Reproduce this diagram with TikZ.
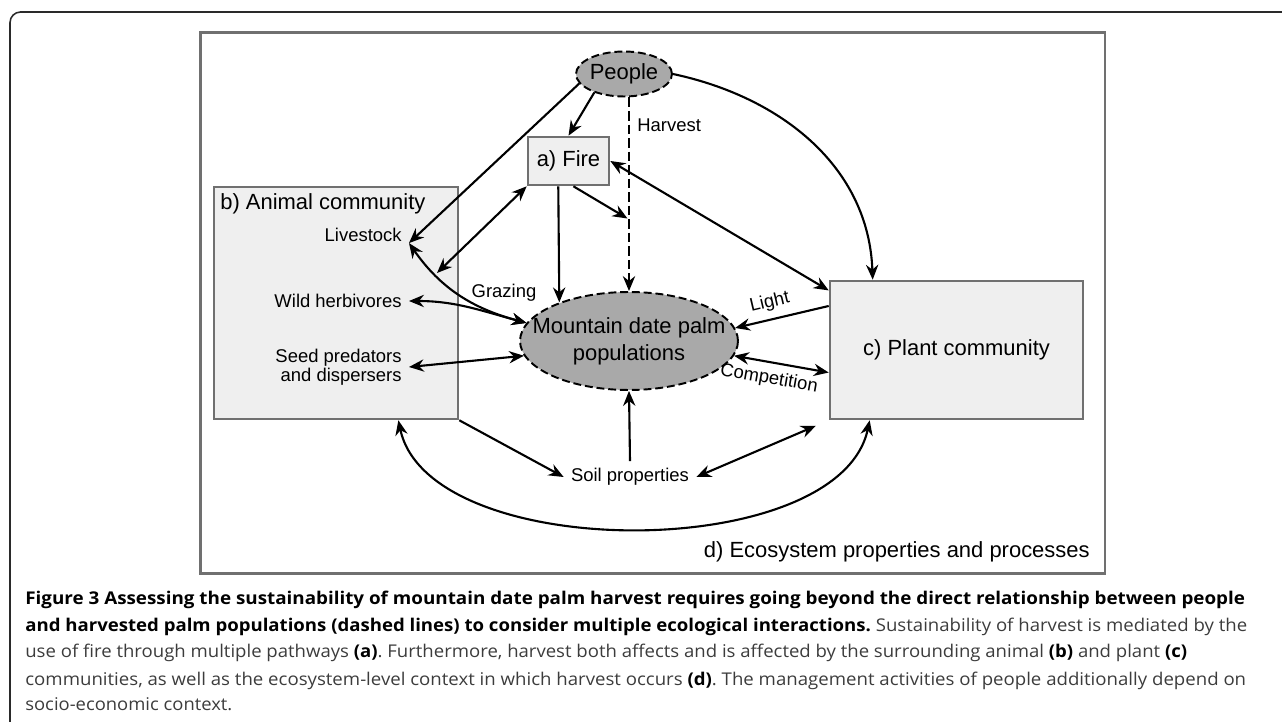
\documentclass[tikz,border=0pt]{standalone}
\usepackage{graphicx}
\usepackage{fontspec}
\setmainfont{Liberation Sans}
\newfontfamily\capfont{Open Sans}
\usetikzlibrary{arrows.meta,shapes.geometric}
\definecolor{boxedge}{HTML}{707070}
\definecolor{boxfill}{HTML}{EFEFEF}
\definecolor{ovalfill}{HTML}{A9A9A9}
\definecolor{captxt}{HTML}{3C3C3C}
\definecolor{framedark}{HTML}{2A2A2A}
\newcommand\capbold[1]{\textcolor{black}{\bfseries #1}}
\frenchspacing
\begin{document}
\begin{tikzpicture}[x=0.02cm,y=-0.02cm,
  box/.style={draw=boxedge,fill=boxfill,line width=1.5pt,inner sep=0pt},
  oval/.style={ellipse,draw,fill=ovalfill,line width=1.1pt,dash pattern=on 4.5pt off 2.2pt,inner sep=0pt},
  big/.style={font=\fontsize{12.5}{15.3}\selectfont},
  lbl/.style={font=\fontsize{10.5}{10.8}\selectfont,inner sep=4pt},
  captext/.style={font=\capfont\fontsize{10}{12}\selectfont,text=captxt,inner sep=0pt,anchor=base west},
  arr/.style={line width=1.2pt,-{Stealth[length=8.5pt,width=7pt,inset=2.8pt]}},
  twoway/.style={line width=1.2pt,{Stealth[length=8.5pt,width=7pt,inset=2.8pt]}-{Stealth[length=8.5pt,width=7pt,inset=2.8pt]}}]
\useasboundingbox (0,0) rectangle (1282,722);
% frames
\draw[framedark,line width=0.9pt,rounded corners=6pt] (10,760) -- (10,12) -- (1320,12);
\node[draw=boxedge,line width=1.5pt,minimum width=18.1cm,minimum height=10.82cm,anchor=north west,inner sep=0pt] (eco) at (199,31) {};
\node[big,anchor=base east,inner sep=0pt] (ecolbl) at (1090,558) {d) Ecosystem properties and processes};
% boxes and ovals
\node[box,minimum width=4.88cm,minimum height=4.64cm] (animal) at (336,303) {};
\node[big,anchor=base west,inner sep=0pt] (animallbl) at (220,210) {b) Animal community};
\node[box,big,minimum width=1.62cm,minimum height=0.96cm] (fire) at (568.5,161) {a) Fire};
\node[box,big,minimum width=5.06cm,minimum height=2.76cm] (plant) at (956.5,350) {c) Plant community};
\node[oval,minimum width=1.92cm,minimum height=0.9cm,label={[big]center:People}] (people) at (624,74) {};
\node[oval,minimum width=4.36cm,minimum height=1.96cm,label={[big,align=center]center:Mountain date palm\\populations}] (palm) at (629,341) {};
% labels
\node[lbl,anchor=east] (livestock) at (409,235) {Livestock};
\node[lbl,anchor=east] (wild) at (409,301) {Wild herbivores};
\node[lbl,anchor=east,align=right] (seed) at (409,367) {Seed predators\\and dispersers};
\node[lbl] (soil) at (630,477) {Soil properties};
\node[lbl,anchor=west] (harvestlbl) at (630,125) {Harvest};
\node[lbl] (grazing) at (504,293) {Grazing};
\coordinate (grz) at (437,273);
% links
\draw[arr] (people.192) -- (livestock.-10);
\draw[arr] (people.212) -- (fire.north);
\draw[arr] (people.east) to[out=-12,in=92] (plant.140.8);
\draw[arr,dash pattern=on 5.5pt off 2.2pt] (people.south -| palm.north) -- (palm.north) coordinate[pos=0.63] (hvmid);
\draw[arr,shorten >=1pt] (fire.-79) -- (hvmid);
\draw[arr] (fire.-112) -- (palm.151.5);
\draw[twoway] (fire.south west) -- (grz);
\draw[twoway] (livestock.-10) to[out=-55,in=165] (palm.170);
\draw[twoway] (wild.east) to[out=0,in=165] (palm.170);
\draw[twoway] (seed.east) -- (palm.188);
\draw[twoway] (fire.east) -- (plant.155);
\draw[arr] (plant.161) -- node[lbl,sloped,above,pos=0.59] {Light} (palm.7.5);
\draw[twoway] (palm.-8.4) -- node[lbl,sloped,below,pos=0.4] {Competition} (plant.190.7);
\draw[arr] (soil.north) -- (palm.south);
\draw[arr] (animal.south east) -- (soil.west);
\draw[twoway,shorten >=0.28cm] (soil.east) -- (plant.south west);
\draw[twoway] (animal.-62) to[out=-78,in=-102,looseness=0.8] (plant.-141);
% caption
\node[captext] (cap1) at (25,605) {\resizebox{24.4cm}{\height}{\capbold{Figure 3 Assessing the sustainability of mountain date palm harvest requires going beyond the direct relationship between people}}};
\node[captext] (cap2) at (25,632) {\resizebox{24.44cm}{\height}{\capbold{and harvested palm populations (dashed lines) to consider multiple ecological interactions.} Sustainability of harvest is mediated by the}};
\node[captext] (cap3) at (25,658) {\resizebox{23.24cm}{\height}{use of fire through multiple pathways \capbold{(a)}. Furthermore, harvest both affects and is affected by the surrounding animal \capbold{(b)} and plant \capbold{(c)}}};
\node[captext] (cap4) at (25,685) {\resizebox{24.42cm}{\height}{communities, as well as the ecosystem-level context in which harvest occurs \capbold{(d)}. The management activities of people additionally depend on}};
\node[captext] (cap5) at (25,711) {\resizebox{4.14cm}{\height}{socio-economic context.}};
\end{tikzpicture}
\end{document}
